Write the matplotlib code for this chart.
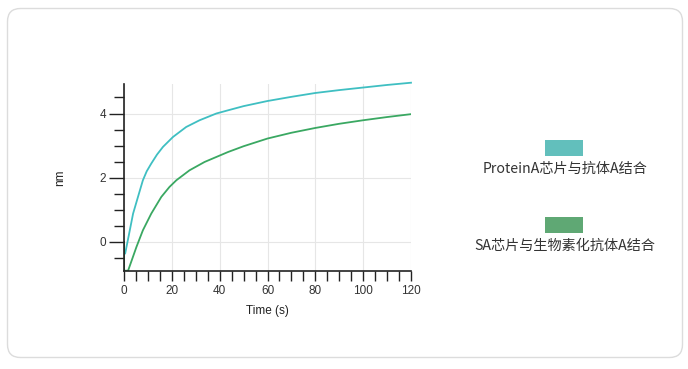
import numpy as np
import matplotlib.pyplot as plt
from matplotlib.patches import FancyBboxPatch, Rectangle

plt.rcParams['font.family'] = ['Liberation Sans', 'Noto Sans CJK SC', 'DejaVu Sans']

# sensorgram readings (s, nm)
t_protein = [0.5, 2, 3.8, 6, 7.9, 9.5, 11.4, 13.8, 16.3, 20.5, 26, 31.6, 38.6, 43.5, 50, 60, 70, 80, 90, 100, 110, 120]
nm_protein = [-0.36, 0.2, 0.88, 1.44, 1.92, 2.2, 2.44, 2.72, 2.96, 3.27, 3.58, 3.79, 4.0, 4.1, 4.23, 4.39, 4.52, 4.64, 4.73, 4.81, 4.89, 4.96]
t_sa = [0, 0, 1.7, 3.5, 5.2, 7.9, 11.4, 15.6, 19, 21.9, 27.4, 33.7, 43.5, 50, 60, 70, 80, 90, 100, 110, 120]
nm_sa = [0.0, -0.9, -0.9, -0.52, -0.16, 0.36, 0.88, 1.4, 1.71, 1.92, 2.23, 2.49, 2.8, 2.98, 3.22, 3.40, 3.55, 3.68, 3.79, 3.89, 3.98]

labels = ['ProteinA芯片与抗体A结合', 'SA芯片与生物素化抗体A结合']
line_colors = ['#3fbfc2', '#3aa862']
patch_colors = ['#62bfbc', '#5fa874']

fig = plt.figure(figsize=(6.88, 3.69), dpi=100)

# card background
bg = fig.add_axes([0, 0, 1, 1], zorder=-1)
bg.set_xlim(0, 688)
bg.set_ylim(369, 0)
bg.axis('off')
bg.add_patch(FancyBboxPatch((7.5, 8.5), 675, 349, boxstyle='round,pad=0,rounding_size=13',
                            facecolor='white', edgecolor='#dcdcdc', linewidth=1))

ax = fig.add_axes([124/688, 1 - 270.7/369, 287/688, (270.7 - 84)/369])
ax.plot(t_protein, nm_protein, color=line_colors[0], lw=1.3, clip_on=False)
ax.plot(t_sa, nm_sa, color=line_colors[1], lw=1.3)
ax.plot([0, 0], [0, -0.9], color='#2a6a3a', lw=1.3)

ax.set_xlim(0, 120)
ax.set_ylim(-0.9, 4.92)
ax.set_xticks(np.arange(0, 121, 20))
ax.set_xticks(np.arange(0, 121, 5), minor=True)
ax.set_yticks([0, 2, 4])
ax.set_yticks(np.arange(-0.5, 4.9, 0.5), minor=True)
ax.grid(True, which='major', color='#e6e6e6', lw=0.8)
ax.set_axisbelow(True)
for s in ['top', 'right']:
    ax.spines[s].set_visible(False)
for s in ['left', 'bottom']:
    ax.spines[s].set_color('#222222')
    ax.spines[s].set_linewidth(1.2)
ax.tick_params(which='both', color='#222222', width=1, labelsize=8.5, labelcolor='#333333')
ax.tick_params(axis='x', which='both', length=7, pad=3)
ax.tick_params(axis='y', which='major', length=11, pad=2)
ax.tick_params(axis='y', which='minor', length=7)
ax.set_xlabel('Time (s)', fontsize=8.5, color='#222222', labelpad=6)
ax.set_ylabel('nm', fontsize=8.5, color='#222222', labelpad=24)

# legend on the right
for i, (lab, c) in enumerate(zip(labels, patch_colors)):
    y0 = 140 + i * 77
    bg.add_patch(Rectangle((545, y0), 38, 16, facecolor=c, edgecolor='none'))
    bg.text(565, y0 + 29, lab, ha='center', va='center', fontsize=10.2, color='#333333',
            family=['Noto Sans CJK SC', 'DejaVu Sans'])

fig.savefig('out.png', dpi=100)
